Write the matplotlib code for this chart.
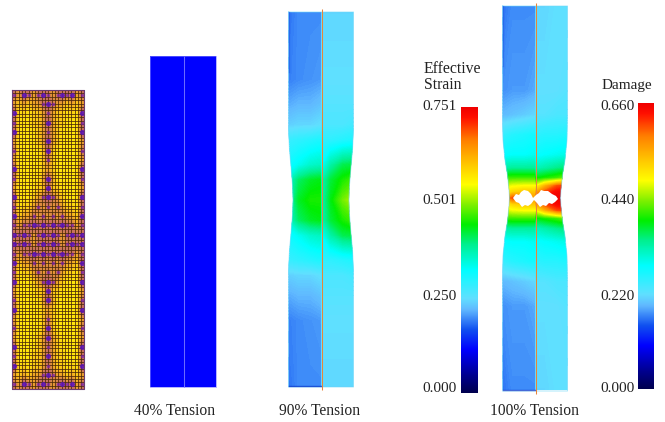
import numpy as np
import matplotlib
matplotlib.use('Agg')
import matplotlib.pyplot as plt
from matplotlib.colors import LinearSegmentedColormap
from matplotlib.patches import Polygon

plt.rcParams['font.family'] = ['Liberation Serif', 'DejaVu Serif']

# colour bars
strain_ticks = ['0.000', '0.250', '0.501', '0.751']
damage_ticks = ['0.000', '0.220', '0.440', '0.660']
cmap_pos = [0.0, 0.06, 0.15, 0.22, 0.29, 0.33, 0.43, 0.52, 0.59, 0.66, 0.73, 0.80, 0.885, 0.965, 1.0]
cmap_col = ['#00004f', '#00008f', '#0000ff', '#1050f0', '#60b8ff', '#60e0ff', '#00ffff', '#00f090',
            '#00ee00', '#80f000', '#ffff00', '#ffc800', '#ff8000', '#ff1000', '#f00000']

# mesh panel, level per coarse cell, top half (bottom half is the mirror)
# 0-2 yellow to orange, 3 orange with magenta, 4 purple node cluster
mesh_levels = [
    '324323432343423',
    '212122343221212',
    '401011232110104',
    '300011242110003',
    '400001232100004',
    '200001242100002',
    '300000141000003',
    '200000131000002',
    '400000121000004',
    '300000242000003',
    '200001141100002',
    '400012343210004',
    '301123232321103',
    '412232323232214',
    '323343434343323',
    '434323434323434',
]
mesh_col = ['#ffe40c', '#fbcc14', '#eea426', '#c8705c', '#c8705c']

# specimen outlines: y position, half width
straight_y = [56, 387]
straight_w = [33, 33]
y90 = [12, 130, 150, 170, 185, 200, 215, 230, 250, 270, 387]
w90 = [32.5, 32.5, 31.5, 29.7, 28.5, 28, 28.5, 29.7, 31.5, 32.5, 32.5]
y100 = [6, 115, 140, 160, 175, 190, 198, 206, 221, 236, 256, 281, 391]
w100 = [32.5, 32.5, 32, 30, 27.5, 26, 25.5, 26, 27.5, 30, 32, 32.5, 32.5]

# strain field, fraction of colour bar, rows top to middle, columns outer edge to centre line
rows90 = [12, 80, 105, 125, 140, 165, 180, 200]
left90 = [[.24, .26, .26, .26], [.25, .26, .265, .27], [.28, .29, .29, .30], [.31, .32, .32, .33],
          [.37, .38, .39, .40], [.41, .44, .47, .48], [.46, .54, .57, .58], [.47, .57, .60, .60]]
right90 = [[.32, .32, .32, .32], [.33, .33, .33, .33], [.34, .34, .34, .34], [.35, .35, .35, .36],
           [.38, .38, .39, .40], [.42, .50, .55, .56], [.48, .56, .60, .63], [.48, .58, .65, .70]]
rows100 = [6, 90, 115, 135, 155, 168, 178, 186, 192, 198]
left100 = [[.24, .26, .26, .26], [.26, .27, .27, .28], [.29, .30, .31, .32], [.37, .39, .40, .41],
           [.42, .43, .43, .44], [.50, .51, .51, .51], [.61, .62, .62, .62], [.69, .72, .73, .73],
           [.74, .78, .80, .80], [.80, .92, .85, .85]]
right100 = [[.32, .32, .33, .33], [.33, .33, .33, .34], [.34, .34, .35, .35], [.38, .39, .39, .40],
            [.42, .43, .44, .45], [.48, .50, .52, .54], [.58, .60, .62, .66], [.72, .82, .92, .95],
            [.82, .92, .98, .99], [.90, .98, 1.0, 1.0]]

# fracture hole in the 100% specimen
hole_x = [513, 516, 519, 521, 524, 528, 531, 533, 536, 539, 541, 544, 548, 552, 556, 558,
          555, 552, 549, 546, 543, 540, 537, 534, 531, 528, 525, 522, 519, 516]
hole_y = [198, 194, 195, 192, 190, 191, 194, 198, 195, 193, 190, 191, 191, 194, 196, 199,
          202, 204, 203, 206, 205, 207, 203, 200, 204, 206, 205, 207, 203, 202]

cmap = LinearSegmentedColormap.from_list('fe', list(zip(cmap_pos, cmap_col)), N=512)
levels = np.linspace(0, 1, 257)

fig = plt.figure(figsize=(6.65, 4.22), dpi=100, facecolor='white')
ax = fig.add_axes([0, 0, 1, 1])
ax.set_xlim(0, 665)
ax.set_ylim(422, 0)
ax.axis('off')


def mirror(rows, mid):
    return list(rows) + [2 * mid - r for r in rows[-2::-1]]


def specimen(cx, rows_y, left, right, out_y, out_w, line_col, edge_col, over=3, strip=0.0):
    mid = rows_y[-1]
    yy = mirror(rows_y, mid)
    # bottom half repeats the top half
    L = np.array(list(left) + list(left[-2::-1]))
    R = np.array(list(right) + list(right[-2::-1]))
    out_y = np.array(out_y)
    out_w = np.array(out_w)
    pts = np.column_stack([np.r_[cx - out_w, (cx + out_w)[::-1]], np.r_[out_y, out_y[::-1]]])
    clip = Polygon(pts, closed=True, transform=ax.transData, fc='none', ec='none')
    ax.add_patch(clip)
    for Z, xs in ((L, [cx - 34, cx - 22, cx - 10, cx]), (R, [cx, cx + 10, cx + 22, cx + 34])):
        cs = ax.contourf(xs, yy, Z, levels=levels, cmap=cmap, vmin=0, vmax=1, extend='both', zorder=2)
        cs.set_clip_path(clip)
    ax.plot(pts[:, 0].tolist() + [pts[0, 0]], pts[:, 1].tolist() + [pts[0, 1]], color=edge_col,
            lw=0.7, alpha=0.6, zorder=3)
    # half pixel offset keeps the line on one pixel column, so it stays orange
    ax.plot([cx + 0.5, cx + 0.5], [out_y[0] - over, out_y[-1] + over], color=line_col, lw=0.75,
            solid_capstyle='butt', zorder=4)
    if strip:
        ax.plot([cx - out_w[0] + 0.5, cx], [out_y[-1] - 1, out_y[-1] - 1], color='#0a30c8', lw=1.0,
                alpha=strip, zorder=3)
        ax.plot([cx - out_w[0] + 0.5, cx - out_w[0] + 0.5], [out_y[0], out_y[0] + 60], color='#1a50e0',
                lw=1.0, alpha=strip * 0.6, zorder=3)


# mesh
levels_top = np.array([[int(c) for c in row] for row in mesh_levels], dtype=float)
mesh = np.vstack([levels_top, levels_top[::-1]])
mesh_cmap = LinearSegmentedColormap.from_list('mesh', mesh_col)
ax.imshow(mesh, extent=(12, 84, 389, 90), cmap=mesh_cmap, vmin=0, vmax=4, aspect='auto',
          interpolation='bilinear', zorder=1)
for x in np.arange(12, 84.1, 3.3):
    ax.plot([x, x], [90, 389], color='#4a2808', lw=0.7, alpha=0.8, zorder=2)
for y in np.arange(90, 389.1, 3.4):
    ax.plot([12, 84], [y, y], color='#4a2808', lw=0.7, alpha=0.8, zorder=2)
# purple clusters sit on cells of level 4, fainter dots on level 3
rows_idx, cols_idx = np.nonzero(mesh == 4)
cw, ch = 72 / mesh.shape[1], 299 / mesh.shape[0]
ax.scatter(12 + (cols_idx + 0.5) * cw, 90 + (rows_idx + 0.5) * ch, s=13, color='#5a10c0', alpha=0.85,
           lw=0, zorder=3)
rows_idx, cols_idx = np.nonzero(mesh == 3)
ax.scatter(12 + (cols_idx + 0.5) * cw, 90 + (rows_idx + 0.5) * ch, s=6, color='#7a20b0', alpha=0.7,
           lw=0, zorder=3)
ax.plot([12, 84, 84, 12, 12], [90, 90, 389, 389, 90], color='#6a3a70', lw=0.8, zorder=4)
ax.set_xlim(0, 665)
ax.set_ylim(422, 0)

# specimens
uniform = [[.15, .15, .15, .15], [.15, .15, .15, .15]]
specimen(183, [56, 221.5], uniform, uniform, straight_y, straight_w, '#6a6aff', '#8080ff', over=0)
specimen(321, rows90, left90, right90, y90, w90, '#e8843a', '#70d8f8', strip=0.7)
specimen(535, rows100, left100, right100, y100, w100, '#e8843a', '#70d8f8', strip=0.7)
ax.fill(hole_x, hole_y, color='white', lw=0, zorder=5)

# colour bars
grad = np.linspace(1, 0, 256).reshape(-1, 1)
ax.imshow(grad, extent=(461, 478, 393, 107), cmap=cmap, vmin=0, vmax=1, aspect='auto', zorder=2)
ax.imshow(grad, extent=(638, 654, 389, 103), cmap=cmap, vmin=0, vmax=1, aspect='auto', zorder=2)
ax.set_xlim(0, 665)
ax.set_ylim(422, 0)

tc = '#222222'
tick_y = [389, 296, 200, 107]
for lab, y in zip(strain_ticks, tick_y):
    ax.text(457, y, lab, ha='right', va='center', fontsize=11, color=tc)
for lab, y in zip(damage_ticks, tick_y):
    ax.text(635, y, lab, ha='right', va='center', fontsize=11, color=tc)
ax.text(424, 69, 'Effective', ha='left', va='center', fontsize=11.3, color=tc)
ax.text(424, 85, 'Strain', ha='left', va='center', fontsize=11.3, color=tc)
ax.text(602, 85, 'Damage', ha='left', va='center', fontsize=11, color=tc)
ax.text(175, 411, '40% Tension', ha='center', va='center', fontsize=11.2, color=tc)
ax.text(320, 411, '90% Tension', ha='center', va='center', fontsize=11.2, color=tc)
ax.text(535, 411, '100% Tension', ha='center', va='center', fontsize=11.2, color=tc)

fig.savefig('out.png', dpi=100)
